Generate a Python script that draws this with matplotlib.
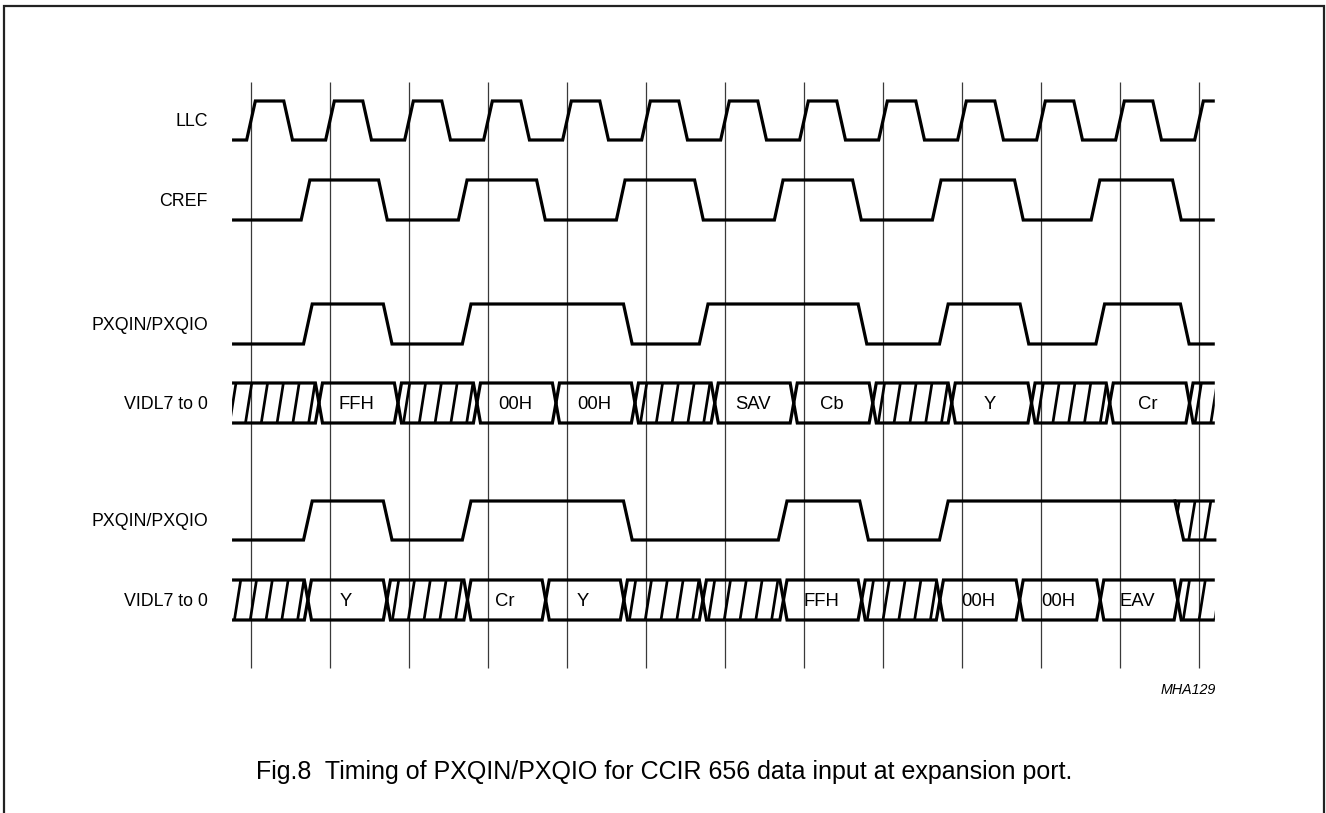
import matplotlib
matplotlib.use("Agg")
import matplotlib.pyplot as plt
from matplotlib.patches import Polygon

plt.rcParams['font.family'] = ['Liberation Sans', 'DejaVu Sans']

# ---- data (time in LLC clock periods) ----
signal_names = ["LLC", "CREF", "PXQIN/PXQIO", "VIDL7 to 0", "PXQIN/PXQIO", "VIDL7 to 0"]

llc_edges = [0.0, 0.47, 1.0, 1.47, 2.0, 2.47, 3.0, 3.47, 4.0, 4.47, 5.0, 5.47,
             6.0, 6.47, 7.0, 7.47, 8.0, 8.47, 9.0, 9.47, 10.0, 10.47, 11.0, 11.47, 12.0]
cref_edges = [0.69, 1.67, 2.68, 3.67, 4.68, 5.67, 6.68, 7.67, 8.68, 9.72, 10.69, 11.72]
pxq1_edges = [0.72, 1.73, 2.73, 4.77, 5.73, 7.74, 8.77, 9.79, 10.75, 11.82]
pxq2_edges = [0.72, 1.73, 2.73, 4.77, 6.73, 7.76, 8.77]
pxq2_unknown_from = 11.75

bus1_cross = [0.86, 1.86, 2.86, 3.86, 4.86, 5.87, 6.87, 7.87, 8.87, 9.88, 10.87, 11.88]
bus1_data = [None, "FFH", None, "00H", "00H", None, "SAV", "Cb", None, "Y", None, "Cr", None]
bus2_cross = [0.72, 1.72, 2.74, 3.73, 4.72, 5.72, 6.74, 7.73, 8.72, 9.73, 10.75, 11.73]
bus2_data = [None, "Y", None, "Cr", "Y", None, None, "FFH", None, "00H", "00H", "EAV", None]

grid_ticks = [0, 1, 2, 3, 4, 5, 6, 7, 8, 9, 10, 11, 12]

# ---- layout ----
X0, DX = 251.0, 79.0          # pixel of t=0, pixels per period
T_START, T_END = -0.24, 12.2
EDGE_W = 0.11
CROSS_H = 0.045
HATCH_STEP, HATCH_SLANT = 0.2, 0.08
LW = 2.3

rows = {"llc": (101, 140), "cref": (180, 220), "pxq1": (304, 344),
        "bus1": (383, 423), "pxq2": (501, 540), "bus2": (580, 620)}

fig = plt.figure(figsize=(13.26, 8.13), dpi=100)
ax = fig.add_axes([0, 0, 1, 1])
ax.set_xlim(-X0 / DX, (1326 - X0) / DX)
ax.set_ylim(813, 0)
ax.axis('off')


def wave(edges, hi, lo, start_level=0, t_end=T_END):
    lvl = start_level
    xs, ys = [T_START], [lo if lvl == 0 else hi]
    for e in edges:
        xs += [e - EDGE_W / 2]
        ys += [lo if lvl == 0 else hi]
        lvl = 1 - lvl
        xs += [e + EDGE_W / 2]
        ys += [lo if lvl == 0 else hi]
    xs.append(t_end)
    ys.append(lo if lvl == 0 else hi)
    ax.plot(xs, ys, color='black', lw=LW, solid_joinstyle='miter', solid_capstyle='butt')
    return lvl


def hatch(clip, x_from, x_to, top, bot):
    n = int((x_to - x_from) / HATCH_STEP) + 2
    for i in range(-1, n):
        xb = x_from + i * HATCH_STEP
        ln, = ax.plot([xb, xb + HATCH_SLANT], [bot, top], color='black', lw=LW * 0.85,
                      solid_capstyle='butt')
        ln.set_clip_path(clip)


def bus(cross, data, top, bot):
    mid = (top + bot) / 2
    bounds = [T_START] + cross + [T_END]
    for i, label in enumerate(data):
        c0, c1 = bounds[i], bounds[i + 1]
        left_open = i == 0
        right_open = i == len(data) - 1
        lx = c0 if left_open else c0 + CROSS_H
        rx = c1 if right_open else c1 - CROSS_H
        if left_open:
            pts = [(c0, top), (rx, top), (c1, mid), (rx, bot), (c0, bot)]
        elif right_open:
            pts = [(c1, top), (lx, top), (c0, mid), (lx, bot), (c1, bot)]
        else:
            pts = [(c0, mid), (lx, top), (rx, top), (c1, mid), (rx, bot), (lx, bot), (c0, mid)]
        ax.plot([p[0] for p in pts], [p[1] for p in pts], color='black', lw=LW,
                solid_joinstyle='miter', solid_capstyle='butt')
        poly = Polygon(pts, closed=True, fill=False, edgecolor='none')
        ax.add_patch(poly)
        if label is None:
            ref = c1 - 1.0 if left_open else c0
            hatch(poly, ref + 0.07, c1, top, bot)
        else:
            ax.text((c0 + c1) / 2 - 0.02, mid + 1, label, ha='center', va='center', fontsize=13.3)


# grid lines
ax.vlines(grid_ticks, 82, 668, color='#3a3a3a', lw=0.9)

# signals
wave(llc_edges, *rows["llc"])
wave(cref_edges, *rows["cref"])
wave(pxq1_edges, *rows["pxq1"])
bus(bus1_cross, bus1_data, *rows["bus1"])

hi2, lo2 = rows["pxq2"]
wave(pxq2_edges, hi2, lo2, t_end=T_END)
# undefined level at the end of the second PXQIN trace
ax.plot([pxq2_unknown_from - EDGE_W / 2, pxq2_unknown_from + EDGE_W / 2, T_END],
        [hi2, lo2, lo2], color='black', lw=LW, solid_joinstyle='miter')
unk = Polygon([(pxq2_unknown_from - EDGE_W / 2, hi2), (T_END, hi2), (T_END, lo2),
               (pxq2_unknown_from + EDGE_W / 2, lo2)], closed=True, fill=False, edgecolor='none')
ax.add_patch(unk)
hatch(unk, pxq2_unknown_from + 0.12, T_END, hi2, lo2)

bus(bus2_cross, bus2_data, *rows["bus2"])

# labels
label_y = [121, 201, 325, 404, 521, 601]
for name, y in zip(signal_names, label_y):
    ax.text((208 - X0) / DX, y, name, ha='right', va='center', fontsize=12.8)

ax.text((1216 - X0) / DX, 694, "MHA129", ha='right', va='baseline', fontsize=10.3,
        style='italic')
ax.text((664 - X0) / DX, 779, "Fig.8  Timing of PXQIN/PXQIO for CCIR 656 data input at expansion port.",
        ha='center', va='baseline', fontsize=18)

# frame
fx = lambda px: (px - X0) / DX
ax.plot([fx(4.5), fx(4.5), fx(1323.5), fx(1323.5)], [813, 6, 6, 813], color='#222222',
        lw=1.6, solid_joinstyle='miter')

fig.savefig("out.png", dpi=100)
